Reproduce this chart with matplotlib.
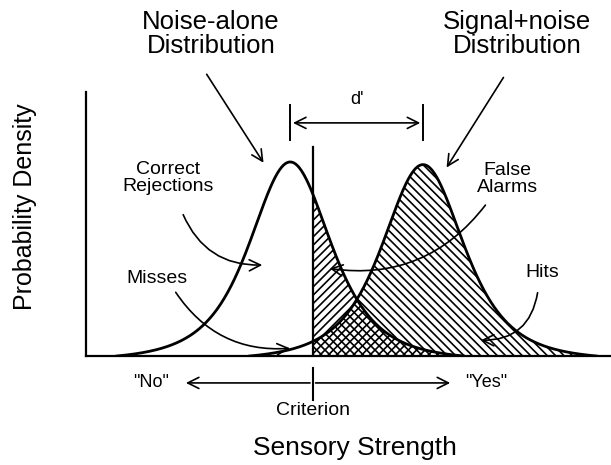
import numpy as np
import matplotlib.pyplot as plt

plt.rcParams['font.family'] = ['Liberation Sans', 'DejaVu Sans']
plt.rcParams['hatch.linewidth'] = 1.2

# signal detection model, x in sensory strength units
noise_mean = 3.89
signal_mean = 6.42
spread = 0.82
noise_peak = 0.735
signal_peak = 0.725
tail_width = 3.3
criterion = 4.32


def bump(x, mu, peak):
    # heavy-tailed bell (t, 3 dof) pulled down so it meets the baseline
    g = (1 + ((x - mu) / spread) ** 2 / 3) ** -2
    g0 = (1 + (tail_width / spread) ** 2 / 3) ** -2
    return peak * np.clip((g - g0) / (1 - g0), 0, None)


xn = np.linspace(noise_mean - tail_width, noise_mean + tail_width, 500)
xs = np.linspace(signal_mean - tail_width, signal_mean + tail_width, 500)
yn = bump(xn, noise_mean, noise_peak)
ys = bump(xs, signal_mean, signal_peak)

fig = plt.figure(figsize=(6.11, 4.65), dpi=100)
ax = fig.add_axes([86 / 611, 109 / 465, 525 / 611, 264 / 465])
ax.set_xlim(0, 10)
ax.set_ylim(0, 1)
ax.set_xticks([])
ax.set_yticks([])
for s in ['top', 'right']:
    ax.spines[s].set_visible(False)
for s in ['left', 'bottom']:
    ax.spines[s].set_linewidth(1.6)

# hatched areas right of the criterion
m = xn >= criterion
ax.fill_between(xn[m], 0, yn[m], facecolor='none', edgecolor='black',
                hatch='////', linewidth=0)
m = xs >= criterion
ax.fill_between(xs[m], 0, ys[m], facecolor='none', edgecolor='black',
                hatch='\\\\\\\\', linewidth=0)

ax.plot(xn, yn, color='black', lw=2.0)
ax.plot(xs, ys, color='black', lw=2.0)
ax.plot([criterion, criterion], [0, 0.79], color='black', lw=1.6)

arrow = dict(arrowstyle='->', color='black', lw=1.2, mutation_scale=20)
big = 18.5
small = 14

ax.text(2.38, 1.22, 'Noise-alone\nDistribution', fontsize=big, ha='center',
        va='center', linespacing=1.0)
ax.text(8.21, 1.22, 'Signal+noise\nDistribution', fontsize=big, ha='center',
        va='center', linespacing=1.0)
ax.annotate('', xy=(3.41, 0.723), xytext=(2.27, 1.076), arrowprops=arrow,
            annotation_clip=False)
ax.annotate('', xy=(6.84, 0.705), xytext=(7.98, 1.064), arrowprops=arrow,
            annotation_clip=False)

# d' bracket between the two means
for mu in [noise_mean, signal_mean]:
    ax.plot([mu, mu], [0.818, 0.951], color='black', lw=1.4)
ax.annotate('', xy=(noise_mean, 0.883), xytext=(signal_mean, 0.883),
            arrowprops=dict(arrowstyle='<->', color='black', lw=1.2,
                            mutation_scale=20))
ax.text((noise_mean + signal_mean) / 2, 0.97, "d'", fontsize=13, ha='center',
        va='center')

ax.text(1.56, 0.674, 'Correct\nRejections', fontsize=small, ha='center',
        va='center', linespacing=1.0)
ax.annotate('', xy=(3.41, 0.345), xytext=(1.83, 0.545),
            arrowprops=dict(arrow, connectionstyle='arc3,rad=0.35'))
ax.text(1.35, 0.295, 'Misses', fontsize=small, ha='center', va='center')
ax.annotate('', xy=(3.94, 0.03), xytext=(1.68, 0.25),
            arrowprops=dict(arrow, connectionstyle='arc3,rad=0.3'))
ax.text(8.02, 0.67, 'False\nAlarms', fontsize=small, ha='center',
        va='center', linespacing=1.0)
ax.annotate('', xy=(4.59, 0.333), xytext=(7.64, 0.58),
            arrowprops=dict(arrow, connectionstyle='arc3,rad=-0.3'))
ax.text(8.69, 0.318, 'Hits', fontsize=small, ha='center', va='center')
ax.annotate('', xy=(7.47, 0.06), xytext=(8.61, 0.25),
            arrowprops=dict(arrow, connectionstyle='arc3,rad=-0.45'))

# response scale under the axis
ax.plot([criterion, criterion], [-0.045, -0.167], color='black', lw=1.5,
        clip_on=False)
ax.annotate('', xy=(1.85, -0.102), xytext=(criterion, -0.102),
            arrowprops=arrow, annotation_clip=False)
ax.annotate('', xy=(6.99, -0.102), xytext=(criterion, -0.102),
            arrowprops=arrow, annotation_clip=False)
ax.text(1.24, -0.102, '"No"', fontsize=13, ha='center', va='center')
ax.text(7.62, -0.102, '"Yes"', fontsize=13, ha='center', va='center')
ax.text(criterion, -0.205, 'Criterion', fontsize=small, ha='center',
        va='center')

ax.text(5.12, -0.348, 'Sensory Strength', fontsize=19, ha='center',
        va='center')
ax.text(-1.16, 0.564, 'Probability Density', fontsize=18, ha='center',
        va='center', rotation=90)

fig.savefig('out.png', dpi=100)
